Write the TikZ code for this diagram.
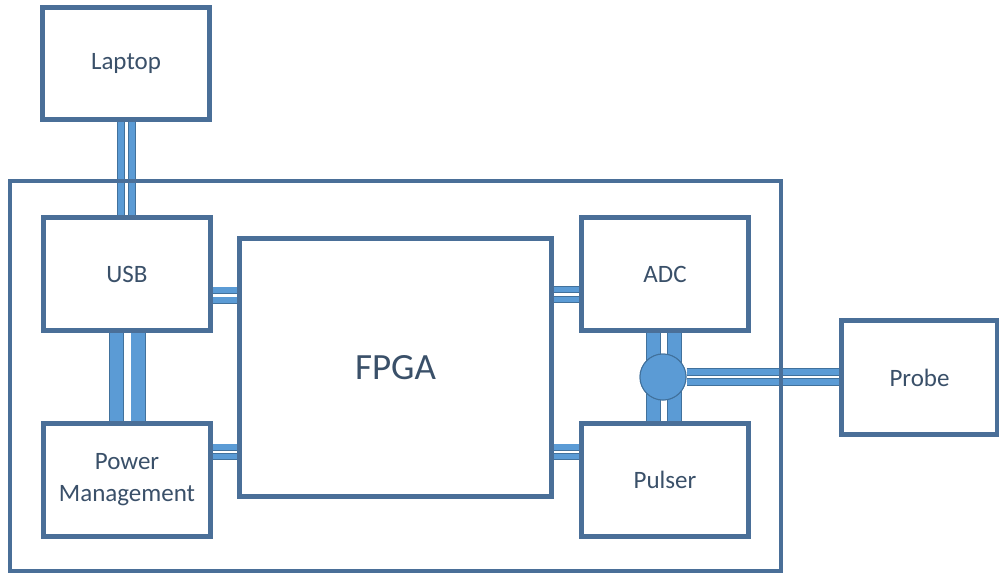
\documentclass[tikz,border=0pt]{standalone}
\usepackage{fontspec}
\setmainfont{Carlito}
\definecolor{boxline}{HTML}{4A6F98}
\definecolor{txt}{HTML}{3A5069}
\definecolor{barfill}{HTML}{5B9BD5}
\definecolor{barline}{HTML}{41719C}
\tikzset{
  blk/.style={draw=boxline, line width=3.2pt, fill=white, text=txt, font=\fontsize{25}{32}\selectfont, inner sep=0pt, align=center},
  bar/.style={draw=barfill, line width=#1-1.6pt, preaction={draw=barline, line width=#1}},
  junc/.style={circle, draw=barline, line width=1pt, fill=barfill, minimum size=46pt, inner sep=0pt}
}
\begin{document}
\begin{tikzpicture}[x=1pt,y=-1pt]
\useasboundingbox (0,0) rectangle (999,576);
% outer enclosure (background fill)
\fill[white] (10,181) rectangle (781,571);
% blocks
\node[blk, minimum width=166pt, minimum height=111pt] (laptop) at (126,63.5) {\raisebox{-3pt}{Laptop}};
\node[blk, minimum width=166pt, minimum height=112pt] (usb) at (127,274) {\raisebox{-3pt}{USB}};
\node[blk, minimum width=166pt, minimum height=112pt] (pm) at (127,480) {Power\\Management};
\node[blk, minimum width=311pt, minimum height=257pt, font=\fontsize{37}{44}\selectfont] (fpga) at (395.5,367.5) {FPGA};
\node[blk, minimum width=166pt, minimum height=112pt] (adc) at (665,274) {\raisebox{-3pt}{ADC}};
\node[blk, minimum width=166pt, minimum height=112pt] (pulser) at (665,480) {\raisebox{-2pt}{Pulser}};
\node[blk, minimum width=155pt, minimum height=113pt] (probe) at (919.5,377.5) {\raisebox{-2pt}{Probe}};
% connectors
\draw[bar=8pt] ([xshift=-5pt]laptop.south) -- ([xshift=-5pt]laptop.south |- usb.north);
\draw[bar=8pt] ([xshift=6pt]laptop.south) -- ([xshift=6pt]laptop.south |- usb.north);
\draw[bar=15pt] ([xshift=-10.5pt]usb.south) -- ([xshift=-10.5pt]pm.north);
\draw[bar=15pt] ([xshift=11pt]usb.south) -- ([xshift=11pt]pm.north);
\draw[bar=7pt] ([yshift=-16pt]usb.east) -- ([yshift=-16pt]usb.east -| fpga.west);
\draw[bar=7pt] ([yshift=-26pt]usb.east) -- ([yshift=-26pt]usb.east -| fpga.west);
\draw[bar=7pt] ([yshift=-15.5pt]adc.west) -- ([yshift=-15.5pt]adc.west -| fpga.east);
\draw[bar=7pt] ([yshift=-25.5pt]adc.west) -- ([yshift=-25.5pt]adc.west -| fpga.east);
\draw[bar=7pt] ([yshift=33pt]pm.east) -- ([yshift=33pt]pm.east -| fpga.west);
\draw[bar=7pt] ([yshift=23.5pt]pm.east) -- ([yshift=23.5pt]pm.east -| fpga.west);
\draw[bar=7pt] ([yshift=33pt]pulser.west) -- ([yshift=33pt]pulser.west -| fpga.east);
\draw[bar=7pt] ([yshift=23.5pt]pulser.west) -- ([yshift=23.5pt]pulser.west -| fpga.east);
\draw[bar=15pt] ([xshift=-11.5pt]adc.south) -- ([xshift=-11.5pt]pulser.north);
\draw[bar=15pt] ([xshift=9.5pt]adc.south) -- ([xshift=9.5pt]pulser.north);
\node[junc] (junction) at (663,377) {};
\draw[bar=8pt] ([yshift=5pt]junction.east) -- ([yshift=5pt]junction.east -| probe.west);
\draw[bar=8pt] ([yshift=-5pt]junction.east) -- ([yshift=-5pt]junction.east -| probe.west);
\node[junc] at (junction) {};
% outer enclosure outline
\node[draw=boxline, line width=3.5pt, minimum width=771pt, minimum height=390pt, inner sep=0pt] (outer) at (395.5,376) {};
% redraw block outlines over bar ends
\foreach \n in {laptop,usb,pm,fpga,adc,pulser,probe}{
  \draw[boxline, line width=3.2pt] (\n.north west) rectangle (\n.south east);
}
\end{tikzpicture}
\end{document}
